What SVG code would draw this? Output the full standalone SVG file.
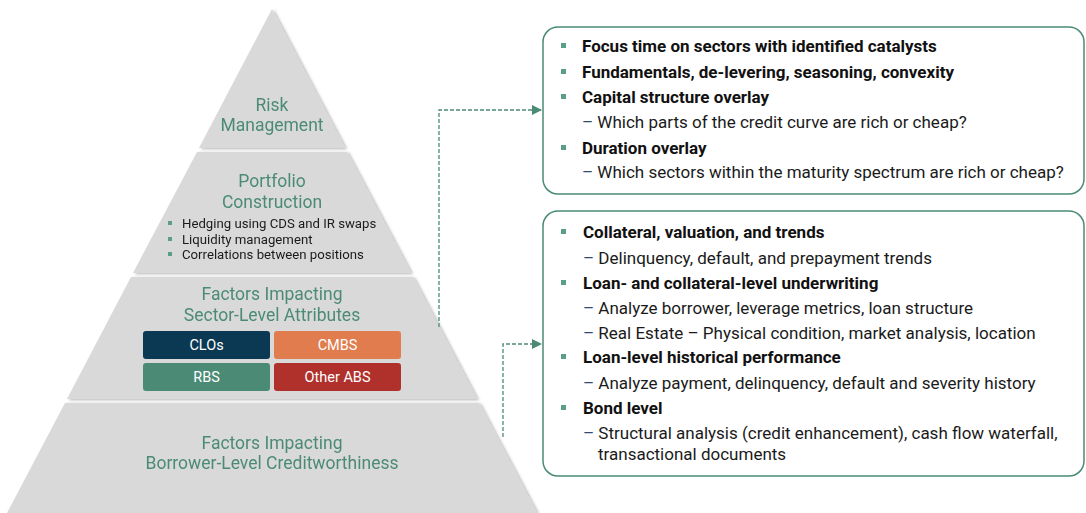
<svg xmlns="http://www.w3.org/2000/svg" width="1086" height="513" viewBox="0 0 1086 513">
<style>
.tier{fill:#d9d9d9;}
.ptitle{font-family:Roboto,"Liberation Sans",sans-serif;font-size:17.5px;fill:#4b8b76;text-anchor:middle;}
.pbul{font-family:Roboto,"Liberation Sans",sans-serif;font-size:13.2px;fill:#1a1a1a;}
.sq{fill:#5a9e85;}
.tag{font-family:Roboto,"Liberation Sans",sans-serif;font-size:14.5px;fill:#ffffff;text-anchor:middle;}
.box{fill:#ffffff;stroke:#4b8b76;stroke-width:1.5;}
.b{font-family:Roboto,"Liberation Sans",sans-serif;font-size:17px;font-weight:bold;fill:#111111;}
.r{font-family:Roboto,"Liberation Sans",sans-serif;font-size:17px;fill:#1a1a1a;}
.dash{fill:#2e4a73;}
.conn{fill:none;stroke:#4b8b76;stroke-width:1.3;stroke-dasharray:4 2;}
</style>
<defs>
<filter id="sh" x="-5%" y="-5%" width="115%" height="115%">
<feDropShadow dx="2" dy="1" stdDeviation="1.5" flood-color="#000" flood-opacity="0.3"/>
</filter>
<marker id="arr" markerWidth="10" markerHeight="10" refX="9" refY="5" orient="auto" markerUnits="userSpaceOnUse">
<path d="M0,0 L10,5 L0,10 z" fill="#4b8b76"/>
</marker>
</defs>

<g id="tier-risk" filter="url(#sh)">
<polygon class="tier" points="272,9 345,148 199,148"/>
<text class="ptitle" x="272" y="111">Risk</text>
<text class="ptitle" x="272" y="131">Management</text>
</g>

<g id="tier-portfolio" filter="url(#sh)">
<polygon class="tier" points="197,152 347,152 411,273 133,273"/>
<text class="ptitle" x="272" y="187">Portfolio</text>
<text class="ptitle" x="272" y="208">Construction</text>
<rect class="sq" x="168" y="221" width="4" height="4"/>
<text class="pbul" x="182" y="228">Hedging using CDS and IR swaps</text>
<rect class="sq" x="168" y="237" width="4" height="4"/>
<text class="pbul" x="182" y="244">Liquidity management</text>
<rect class="sq" x="168" y="252" width="4" height="4"/>
<text class="pbul" x="182" y="259">Correlations between positions</text>
</g>

<g id="tier-sector" filter="url(#sh)">
<polygon class="tier" points="131,277 413,277 477,399 67,399"/>
<text class="ptitle" x="272" y="300">Factors Impacting</text>
<text class="ptitle" x="272" y="321">Sector-Level Attributes</text>
</g>

<g id="tag-clos">
<rect x="143" y="331" width="127" height="28" rx="3" fill="#0b3954"/>
<text class="tag" x="206.5" y="350">CLOs</text>
</g>
<g id="tag-cmbs">
<rect x="274" y="331" width="127" height="28" rx="3" fill="#e07c4e"/>
<text class="tag" x="337.5" y="350">CMBS</text>
</g>
<g id="tag-rbs">
<rect x="143" y="363" width="127" height="28" rx="3" fill="#4b8b76"/>
<text class="tag" x="206.5" y="382">RBS</text>
</g>
<g id="tag-otherabs">
<rect x="274" y="363" width="127" height="28" rx="3" fill="#b0312b"/>
<text class="tag" x="337.5" y="382">Other ABS</text>
</g>

<g id="tier-borrower" filter="url(#sh)">
<polygon class="tier" points="65,403 479,403 537,513 7,513"/>
<text class="ptitle" x="272" y="449">Factors Impacting</text>
<text class="ptitle" x="272" y="469">Borrower-Level Creditworthiness</text>
</g>

<g id="connectors">
<path class="conn" d="M439,327 V110 H541" marker-end="url(#arr)"/>
<path class="conn" d="M503,437 V344 H541" marker-end="url(#arr)"/>
</g>

<g id="box-sector">
<rect class="box" x="543" y="27" width="541" height="167" rx="15"/>
<rect class="sq" x="561" y="43" width="5" height="5"/>
<text class="b" x="582" y="52">Focus time on sectors with identified catalysts</text>
<rect class="sq" x="561" y="69" width="5" height="5"/>
<text class="b" x="582" y="78">Fundamentals, de-levering, seasoning, convexity</text>
<rect class="sq" x="561" y="94" width="5" height="5"/>
<text class="b" x="582" y="103">Capital structure overlay</text>
<text class="r" x="582" y="128"><tspan class="dash">–</tspan> Which parts of the credit curve are rich or cheap?</text>
<rect class="sq" x="561" y="145" width="5" height="5"/>
<text class="b" x="582" y="154">Duration overlay</text>
<text class="r" x="582" y="178"><tspan class="dash">–</tspan> Which sectors within the maturity spectrum are rich or cheap?</text>
</g>

<g id="box-borrower">
<rect class="box" x="543" y="211" width="541" height="265" rx="15"/>
<rect class="sq" x="561" y="229" width="5" height="5"/>
<text class="b" x="583" y="238">Collateral, valuation, and trends</text>
<text class="r" x="583" y="264"><tspan class="dash">–</tspan> Delinquency, default, and prepayment trends</text>
<rect class="sq" x="561" y="280" width="5" height="5"/>
<text class="b" x="583" y="289">Loan- and collateral-level underwriting</text>
<text class="r" x="583" y="314"><tspan class="dash">–</tspan> Analyze borrower, leverage metrics, loan structure</text>
<text class="r" x="583" y="339"><tspan class="dash">–</tspan> Real Estate – Physical condition, market analysis, location</text>
<rect class="sq" x="561" y="354" width="5" height="5"/>
<text class="b" x="583" y="363">Loan-level historical performance</text>
<text class="r" x="583" y="389"><tspan class="dash">–</tspan> Analyze payment, delinquency, default and severity history</text>
<rect class="sq" x="561" y="405" width="5" height="5"/>
<text class="b" x="583" y="414">Bond level</text>
<text class="r" x="583" y="439"><tspan class="dash">–</tspan> Structural analysis (credit enhancement), cash flow waterfall,</text>
<text class="r" x="598" y="460">transactional documents</text>
</g>
</svg>
